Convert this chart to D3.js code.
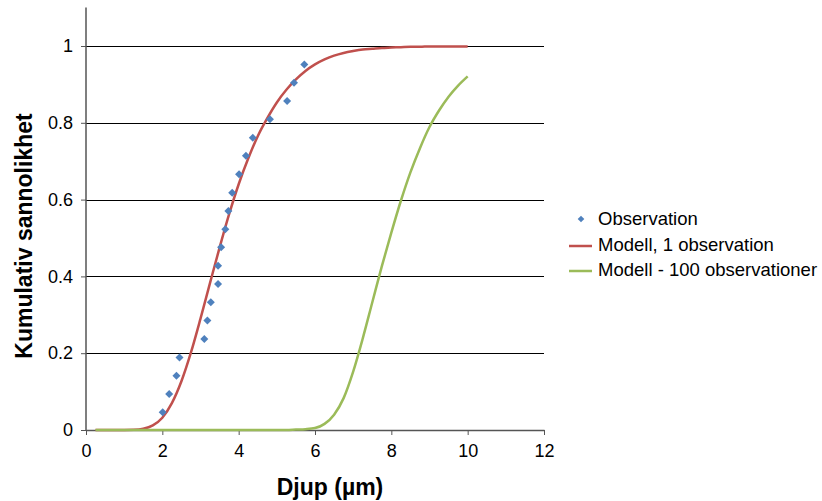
<!DOCTYPE html>
<meta charset="utf-8">
<script src="https://cdn.jsdelivr.net/npm/d3@7"></script>
<style>
	body{margin:0;background:#fff;font-family:"Liberation Sans",Arial,sans-serif;}
</style>
<div id="chart"></div>
<script>
// observations (depth, cumulative probability i/21)
var obsX = [2.01,2.18,2.37,2.45,3.10,3.18,3.27,3.46,3.46,3.54,3.65,3.73,3.83,4.01,4.19,4.37,4.82,5.27,5.45,5.72]
var obsY = [0.046,0.094,0.141,0.189,0.237,0.285,0.333,0.380,0.428,0.476,0.523,0.570,0.618,0.666,0.714,0.761,0.809,0.857,0.904,0.952]

// model curves, sampled every 0.25 from 0.25 to 10
var modelX = [0.25,0.5,0.75,1,1.25,1.5,1.75,2,2.25,2.5,2.75,3,3.25,3.5,3.75,4,4.25,4.5,4.75,5,
	5.25,5.5,5.75,6,6.25,6.5,6.75,7,7.25,7.5,7.75,8,8.25,8.5,8.75,9,9.25,9.5,9.75,10]
var model1 = [0,0,0,0.0001,0.0006,0.0033,0.012,0.032,0.070,0.127,0.202,0.290,0.383,0.475,0.562,0.640,0.707,0.765,0.812,0.853,
	0.886,0.913,0.935,0.952,0.965,0.975,0.982,0.987,0.991,0.993,0.995,0.996,0.997,0.998,0.998,0.999,0.999,0.999,0.999,0.999]
var model100 = [0,0,0,0,0,0,0,0,0,0,0,0,0,0,0,0,0,0,0,0,
	0,0.001,0.002,0.005,0.016,0.040,0.083,0.152,0.238,0.332,0.426,0.514,0.597,0.671,0.734,0.789,0.832,0.868,0.897,0.921]

var xTicks = [0,2,4,6,8,10,12]
var yTicks = [0,0.2,0.4,0.6,0.8,1]
var legendLabels = ["Observation","Modell, 1 observation","Modell - 100 observationer"]

var width = 822
var height = 501
var left = 86, right = 544, bottom = 430, top1 = 46

var x = d3.scaleLinear().domain([0,12]).range([left,right])
var y = d3.scaleLinear().domain([0,1]).range([bottom,top1])

var svg = d3.select("#chart").append("svg")
	.attr("width",width)
	.attr("height",height)

// gridlines
svg.append("g")
	.selectAll("line")
	.data(yTicks.filter(function(d){return d>0}))
	.enter()
	.append("line")
	.attr("x1",left).attr("x2",right)
	.attr("y1",function(d){return Math.round(y(d))+0.5})
	.attr("y2",function(d){return Math.round(y(d))+0.5})
	.attr("stroke","#000")
	.attr("stroke-width",1)

// y axis
var yAxis = svg.append("g")
	.attr("transform","translate("+left+",0)")
	.call(d3.axisLeft(y).tickValues(yTicks).tickSize(5).tickPadding(8)
		.tickFormat(function(d){return d==0||d==1 ? d3.format("d")(d) : d3.format(".1f")(d)}))
yAxis.select(".domain").remove()
yAxis.append("line")
	.attr("x1",0).attr("x2",0)
	.attr("y1",y(1.1)).attr("y2",bottom)
	.attr("stroke","#555").attr("stroke-width",1.5)

// x axis
var xAxis = svg.append("g")
	.attr("transform","translate(0,"+bottom+")")
	.call(d3.axisBottom(x).tickValues(xTicks).tickSize(5).tickPadding(9).tickSizeOuter(0))
xAxis.select(".domain").attr("stroke","#555").attr("stroke-width",1.5)

svg.selectAll(".tick line").attr("stroke","#555")
svg.selectAll(".tick text")
	.style("font-family","'Liberation Sans',Arial,sans-serif")
	.style("font-size","18px")
	.attr("fill","#000")

// axis titles
svg.append("text")
	.attr("x",330).attr("y",495)
	.attr("text-anchor","middle")
	.style("font-size","23px").style("font-weight","bold")
	.text("Djup (µm)")
svg.append("text")
	.attr("transform","translate(32,236) rotate(-90)")
	.attr("text-anchor","middle")
	.style("font-size","23px").style("font-weight","bold")
	.text("Kumulativ sannolikhet")

// model lines
var line = d3.line()
	.curve(d3.curveMonotoneX)
	.x(function(d){return x(d[0])})
	.y(function(d){return y(d[1])})

svg.append("path")
	.datum(d3.zip(modelX,model1))
	.attr("d",line)
	.attr("fill","none")
	.attr("stroke","#C0504D")
	.attr("stroke-width",2.5)
	.attr("stroke-linejoin","round")

svg.append("path")
	.datum(d3.zip(modelX,model100))
	.attr("d",line)
	.attr("fill","none")
	.attr("stroke","#9BBB59")
	.attr("stroke-width",2.5)
	.attr("stroke-linejoin","round")

// observations
var diamond = d3.symbol().type(d3.symbolSquare).size(32)
svg.append("g")
	.selectAll("path")
	.data(d3.zip(obsX,obsY))
	.enter()
	.append("path")
	.attr("d",diamond)
	.attr("transform",function(d){return "translate("+x(d[0])+","+y(d[1])+") rotate(45)"})
	.attr("fill","#4F81BD")

// legend
var legend = svg.append("g").style("font-size","18.5px")
legend.append("path")
	.attr("d",d3.symbol().type(d3.symbolSquare).size(22))
	.attr("transform","translate(581,219) rotate(45)")
	.attr("fill","#4F81BD")
legend.append("line")
	.attr("x1",569).attr("x2",592).attr("y1",246).attr("y2",246)
	.attr("stroke","#C0504D").attr("stroke-width",2.5)
legend.append("line")
	.attr("x1",569).attr("x2",592).attr("y1",271).attr("y2",271)
	.attr("stroke","#9BBB59").attr("stroke-width",2.5)
legend.selectAll("text")
	.data(legendLabels)
	.enter()
	.append("text")
	.attr("x",598)
	.attr("y",function(d,i){return 219+i*25.5})
	.attr("dy","0.35em")
	.text(function(d){return d})
</script>
